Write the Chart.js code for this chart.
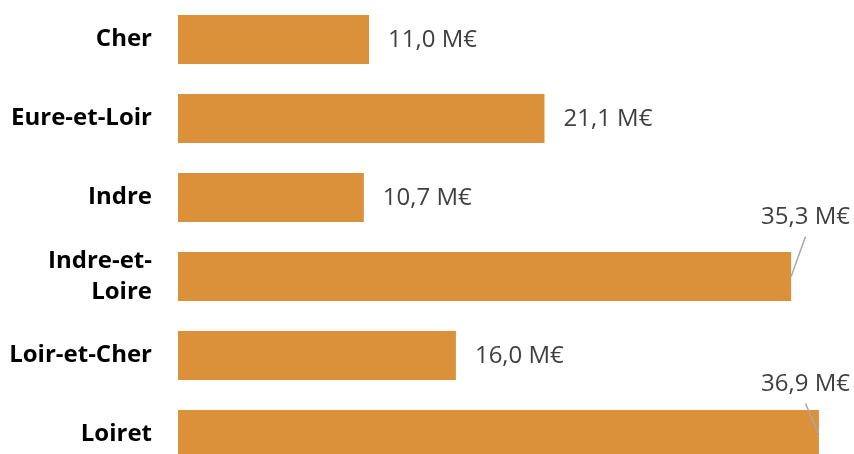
<!DOCTYPE html>
<html lang="fr">
<head>
    <meta charset="UTF-8">
    <title>Montants par département</title>
    <style>
        body {
            margin: 0;
            background: #ffffff;
            overflow: hidden;
        }
        #wrap {
            width: 854px;
            height: 474px;
            position: relative;
        }
    </style>
    <script src="https://cdn.jsdelivr.net/npm/chart.js"></script>
</head>
<body>
    <div id="wrap">
        <canvas id="myChart"></canvas>
    </div>

    <script>
        // départements and amounts in millions of euros
        const departements = ['Cher', 'Eure-et-Loir', 'Indre', ['Indre-et-', 'Loire'], 'Loir-et-Cher', 'Loiret'];
        const montants = [11.0, 21.1, 10.7, 35.3, 16.0, 36.9];

        const barColor = '#DA9139';
        const labelFont = '400 24px "Open Sans"';

        function formatMontant(v) {
            return v.toFixed(1).replace('.', ',') + ' M€';
        }

        // draws the value next to each bar, or above it with a leader line when it doesn't fit
        const valueLabels = {
            id: 'valueLabels',
            afterDatasetsDraw(chart, args, opts) {
                const ctx = chart.ctx;
                const area = chart.chartArea;
                const meta = chart.getDatasetMeta(0);
                ctx.save();
                ctx.font = labelFont;
                ctx.fillStyle = '#3f3f3f';
                ctx.textBaseline = 'middle';
                meta.data.forEach((bar, i) => {
                    const text = formatMontant(montants[i]);
                    const w = ctx.measureText(text).width;
                    if (bar.x + opts.gap + w <= area.right) {
                        ctx.textAlign = 'left';
                        ctx.fillText(text, bar.x + opts.gap, bar.y + 1);
                    } else {
                        const dy = opts.calloutOffsets[i] ?? -55;
                        const tx = area.right - 4;
                        const ty = bar.y + dy;
                        ctx.strokeStyle = '#a8a8a8';
                        ctx.lineWidth = 1.5;
                        ctx.beginPath();
                        ctx.moveTo(tx - w / 2, ty + 20);
                        ctx.lineTo(bar.x, bar.y);
                        ctx.stroke();
                        ctx.textAlign = 'right';
                        ctx.fillText(text, tx, ty + 1);
                    }
                });
                ctx.restore();
            }
        };

        const ctx = document.getElementById('myChart').getContext('2d');
        const myChart = new Chart(ctx, {
            type: 'bar',
            data: {
                labels: departements,
                datasets: [{
                    data: montants,
                    backgroundColor: barColor,
                    borderWidth: 0,
                    barPercentage: 0.62,
                    categoryPercentage: 1
                }]
            },
            options: {
                indexAxis: 'y',
                responsive: true,
                maintainAspectRatio: false,
                animation: false,
                layout: { padding: 0 },
                scales: {
                    x: {
                        display: false,
                        min: 0,
                        max: 38.92
                    },
                    y: {
                        grid: { display: false, drawTicks: false },
                        border: { display: false },
                        ticks: {
                            padding: 26,
                            color: '#000000',
                            font: { family: '"Open Sans"', size: 24, weight: 'bold', lineHeight: 1.3 }
                        },
                        afterFit(scale) {
                            // fixed gutter for the names, no extra room above/below
                            scale.width = 178;
                            scale.paddingTop = 0;
                            scale.paddingBottom = 0;
                        }
                    }
                },
                plugins: {
                    legend: { display: false },
                    tooltip: { enabled: false },
                    valueLabels: {
                        gap: 19,
                        calloutOffsets: { 3: -60, 5: -51 }
                    }
                }
            },
            plugins: [valueLabels]
        });
    </script>
</body>
</html>
